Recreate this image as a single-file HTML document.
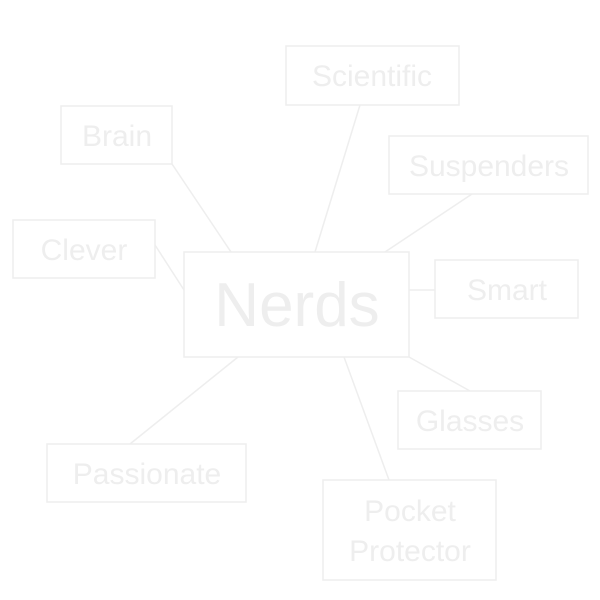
<!DOCTYPE html>
<html><head><style>
html,body{margin:0;padding:0;background:#fff;width:600px;height:600px;overflow:hidden}
</style></head><body>
<svg width="600" height="600" xmlns="http://www.w3.org/2000/svg" font-family="Liberation Sans, DejaVu Sans, sans-serif" fill="none">
<g stroke="#eeeeee" stroke-width="1.5">
<line x1="172" y1="164" x2="231" y2="252"/>
<line x1="360" y1="105" x2="315" y2="252"/>
<line x1="472" y1="194" x2="385" y2="252"/>
<line x1="155" y1="245" x2="184" y2="290"/>
<line x1="409" y1="290" x2="435" y2="290"/>
<line x1="409" y1="357" x2="470" y2="391"/>
<line x1="238" y1="357" x2="130" y2="444"/>
<line x1="344" y1="357" x2="389" y2="480"/>
<rect x="184" y="252" width="225" height="105" fill="#fff"/>
<rect x="286" y="46" width="173" height="59" fill="#fff"/>
<rect x="61" y="106" width="111" height="58" fill="#fff"/>
<rect x="389" y="136" width="199" height="58" fill="#fff"/>
<rect x="13" y="220" width="142" height="58" fill="#fff"/>
<rect x="435" y="260" width="143" height="58" fill="#fff"/>
<rect x="398" y="391" width="143" height="58" fill="#fff"/>
<rect x="47" y="444" width="199" height="58" fill="#fff"/>
<rect x="323" y="480" width="173" height="100" fill="#fff"/>
</g>
<g fill="#eeeeee" text-anchor="middle" font-size="30">
<text x="297" y="326" font-size="62">Nerds</text>
<text x="372" y="86">Scientific</text>
<text x="117" y="146">Brain</text>
<text x="489" y="176">Suspenders</text>
<text x="84" y="260">Clever</text>
<text x="507" y="300">Smart</text>
<text x="470" y="431">Glasses</text>
<text x="147" y="484">Passionate</text>
<text x="410" y="521">Pocket</text>
<text x="410" y="561">Protector</text>
</g>
</svg>
</body></html>
